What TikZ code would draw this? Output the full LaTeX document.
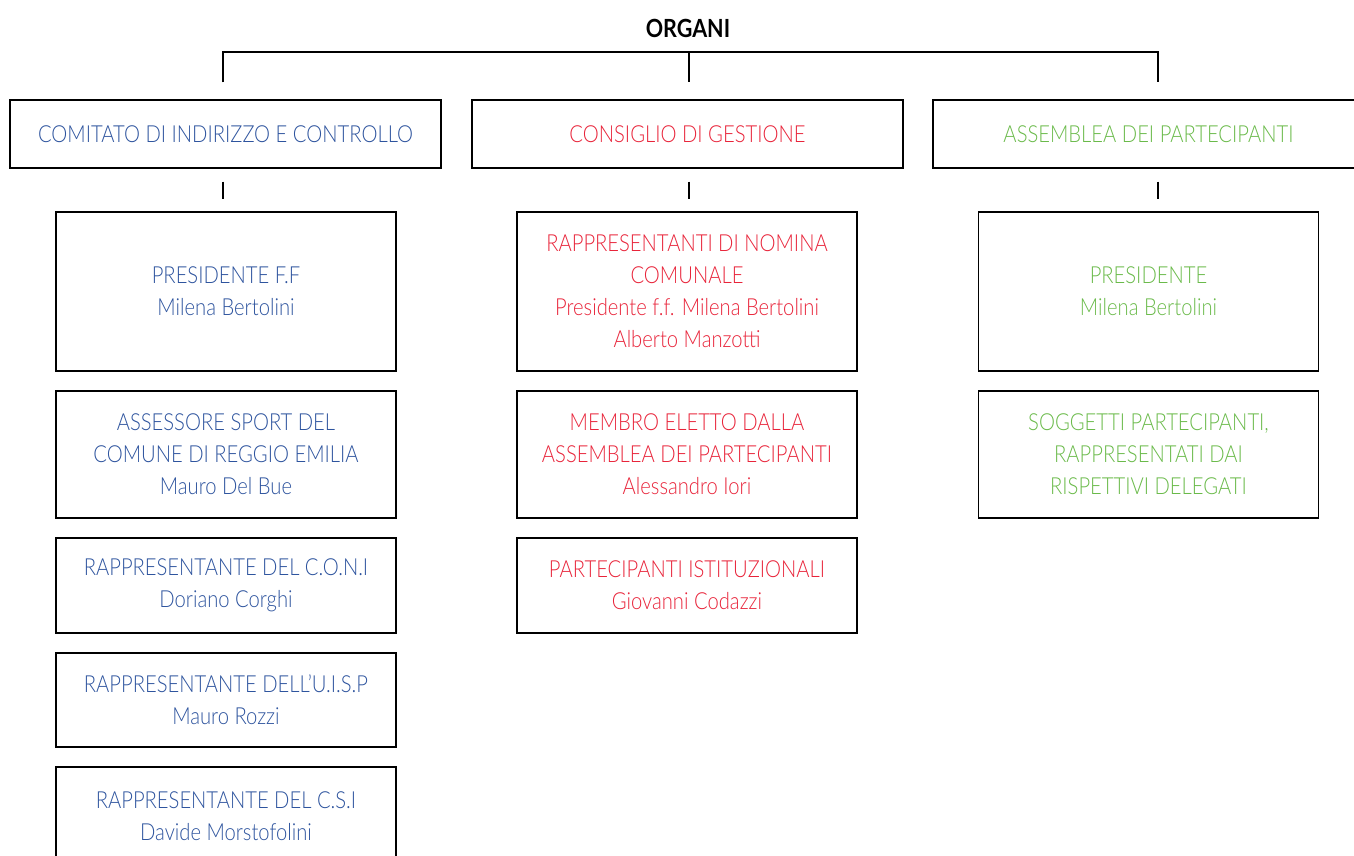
\documentclass[tikz,border=0pt]{standalone}
\usepackage{fontspec}
\setmainfont{Lato}[UprightFont={* Light}, BoldFont={* Bold}, FakeStretch=0.86]
\usetikzlibrary{positioning}
\definecolor{cicblue}{RGB}{46,84,158}
\definecolor{cdgred}{RGB}{232,36,58}
\definecolor{adpgreen}{RGB}{106,186,74}

\begin{document}
\begin{tikzpicture}[x=1pt, y=-1pt,
    box/.style={draw, line width=1.1pt, align=center, inner sep=0pt,
        font=\fontsize{23.5}{32}\selectfont},
    organ/.style={box, minimum width=431pt, minimum height=68pt},
    member/.style={box, minimum width=340pt},
    tree/.style={line width=1.1pt}]
    \useasboundingbox (0,0) rectangle (1354,856);

    \node[font=\fontsize{25}{28}\selectfont\bfseries] (org) at (688,28) {ORGANI};

    % organi
    \node[organ, text=cicblue] (cic) at (225.5,134) {COMITATO DI INDIRIZZO E CONTROLLO};
    \node[organ, text=cdgred] (cdg) at (687.5,134) {CONSIGLIO DI GESTIONE};
    \node[organ, text=adpgreen] (adp) at (1148.5,134) {ASSEMBLEA DEI PARTECIPANTI};

    % comitato
    \begin{scope}[every node/.append style={member, text=cicblue}]
        \node[minimum height=159pt] (cic1) at (226,291.5) {PRESIDENTE F.F\\Milena Bertolini};
        \node[minimum height=127pt] (cic2) at (226,454.5) {ASSESSORE SPORT DEL\\COMUNE DI REGGIO EMILIA\\Mauro Del Bue};
        \node[minimum height=95pt] (cic3) at (226,585.5) {RAPPRESENTANTE DEL C.O.N.I\\Doriano Corghi};
        \node[minimum height=94pt] (cic4) at (226,700) {RAPPRESENTANTE DELL’U.I.S.P\\Mauro Rozzi};
        \node[minimum height=98pt] (cic5) at (226,816) {RAPPRESENTANTE DEL C.S.I\\Davide Morstofolini};
    \end{scope}

    % consiglio
    \begin{scope}[every node/.append style={member, text=cdgred}]
        \node[minimum height=159pt] (cdg1) at (687,291.5) {RAPPRESENTANTI DI NOMINA\\COMUNALE\\Presidente f.f. Milena Bertolini\\Alberto Manzotti};
        \node[minimum height=127pt] (cdg2) at (687,454.5) {MEMBRO ELETTO DALLA\\ASSEMBLEA DEI PARTECIPANTI\\Alessandro Iori};
        \node[minimum height=95pt] (cdg3) at (687,585.5) {PARTECIPANTI ISTITUZIONALI\\Giovanni Codazzi};
    \end{scope}

    % assemblea
    \begin{scope}[every node/.append style={member, text=adpgreen}]
        \node[minimum height=159pt] (adp1) at (1148.5,291.5) {PRESIDENTE\\Milena Bertolini};
        \node[minimum height=127pt] (adp2) at (1148.5,454.5) {SOGGETTI PARTECIPANTI,\\RAPPRESENTATI DAI\\RISPETTIVI DELEGATI};
    \end{scope}

    \coordinate (bar) at (689,52);
    \draw[tree] ([shift={(-2.5,-17)}]cic.north) |- (bar)
        -| ([shift={(9.5,-17)}]adp.north);
    \draw[tree] (bar) -- ([shift={(1.5,-17)}]cdg.north);

    \draw[tree] ([shift={(-2.5,13)}]cic.south) -- ([shift={(-3,-12)}]cic1.north);
    \draw[tree] ([shift={(1.5,13)}]cdg.south) -- ([shift={(2,-12)}]cdg1.north);
    \draw[tree] ([shift={(9.5,13)}]adp.south) -- ([shift={(9.5,-12)}]adp1.north);
\end{tikzpicture}
\end{document}
